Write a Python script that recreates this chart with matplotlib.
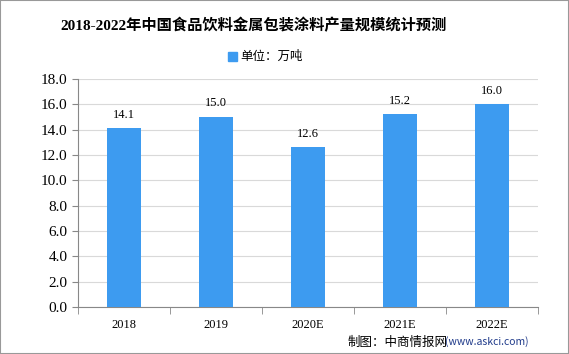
import matplotlib.pyplot as plt
from matplotlib.patches import Rectangle

years = ['2018', '2019', '2020E', '2021E', '2022E']
output = [14.1, 15.0, 12.6, 15.2, 16.0]
yticks = [0, 2, 4, 6, 8, 10, 12, 14, 16, 18]

bar_color = '#3d9bf0'
num_font = ['Liberation Serif', 'Noto Sans CJK SC']
cjk_font = ['Noto Sans CJK SC', 'DejaVu Sans']

fig = plt.figure(figsize=(5.69, 3.54), dpi=100)
ax = fig.add_axes([78 / 569, 1 - 307 / 354, 460 / 569, 228 / 354])

x = range(len(years))
bars = ax.bar(x, output, width=0.37, color=bar_color, zorder=3)
for i, v in enumerate(output):
    ax.text(i, v + 0.6, f'{v:.1f}', ha='center', va='bottom', fontsize=9, family=num_font)

ax.set_xlim(-0.5, len(years) - 0.5)
ax.set_ylim(0, 18)
ax.set_yticks(yticks)
ax.set_yticklabels([f'{t:.1f}' for t in yticks], fontsize=11, family=num_font)
ax.set_xticks(list(x))
ax.set_xticklabels(years, fontsize=9, family=num_font)
ax.tick_params(axis='x', length=0, pad=9)
ax.tick_params(axis='y', length=4, color='#888888')
# separators between categories on the x axis
ax.set_xticks([i - 0.5 for i in range(len(years) + 1)], minor=True)
ax.tick_params(axis='x', which='minor', length=5, color='#888888')

ax.grid(axis='y', color='#d9d9d9', linewidth=0.8, zorder=0)
for s in ['top', 'right']:
    ax.spines[s].set_visible(False)
ax.spines['left'].set_color('#888888')
ax.spines['bottom'].set_color('#888888')

fig.text(254 / 569, 1 - 25 / 354, '2018-2022年中国食品饮料金属包装涂料产量规模统计预测',
         ha='center', va='center', fontsize=11, fontweight='bold', family=num_font)

# legend
fig.patches.append(Rectangle((228 / 569, 1 - 61 / 354), 9 / 569, 9 / 354,
                             transform=fig.transFigure, color=bar_color))
fig.text(240 / 569, 1 - 56 / 354, '单位：万吨', ha='left', va='center', fontsize=9, family=cjk_font)

fig.text(348 / 569, 1 - 342 / 354, '制图：中商情报网', ha='left', va='center', fontsize=9, family=cjk_font)
fig.text(445 / 569, 1 - 342 / 354, '(www.askci.com)', ha='left', va='center', fontsize=7.5,
         color='#1f3a8a', family=cjk_font)

fig.patches.append(Rectangle((0, 0), 1, 1, transform=fig.transFigure, fill=False,
                             edgecolor='#999999', linewidth=1.5))

plt.savefig('out.png', dpi=100)
